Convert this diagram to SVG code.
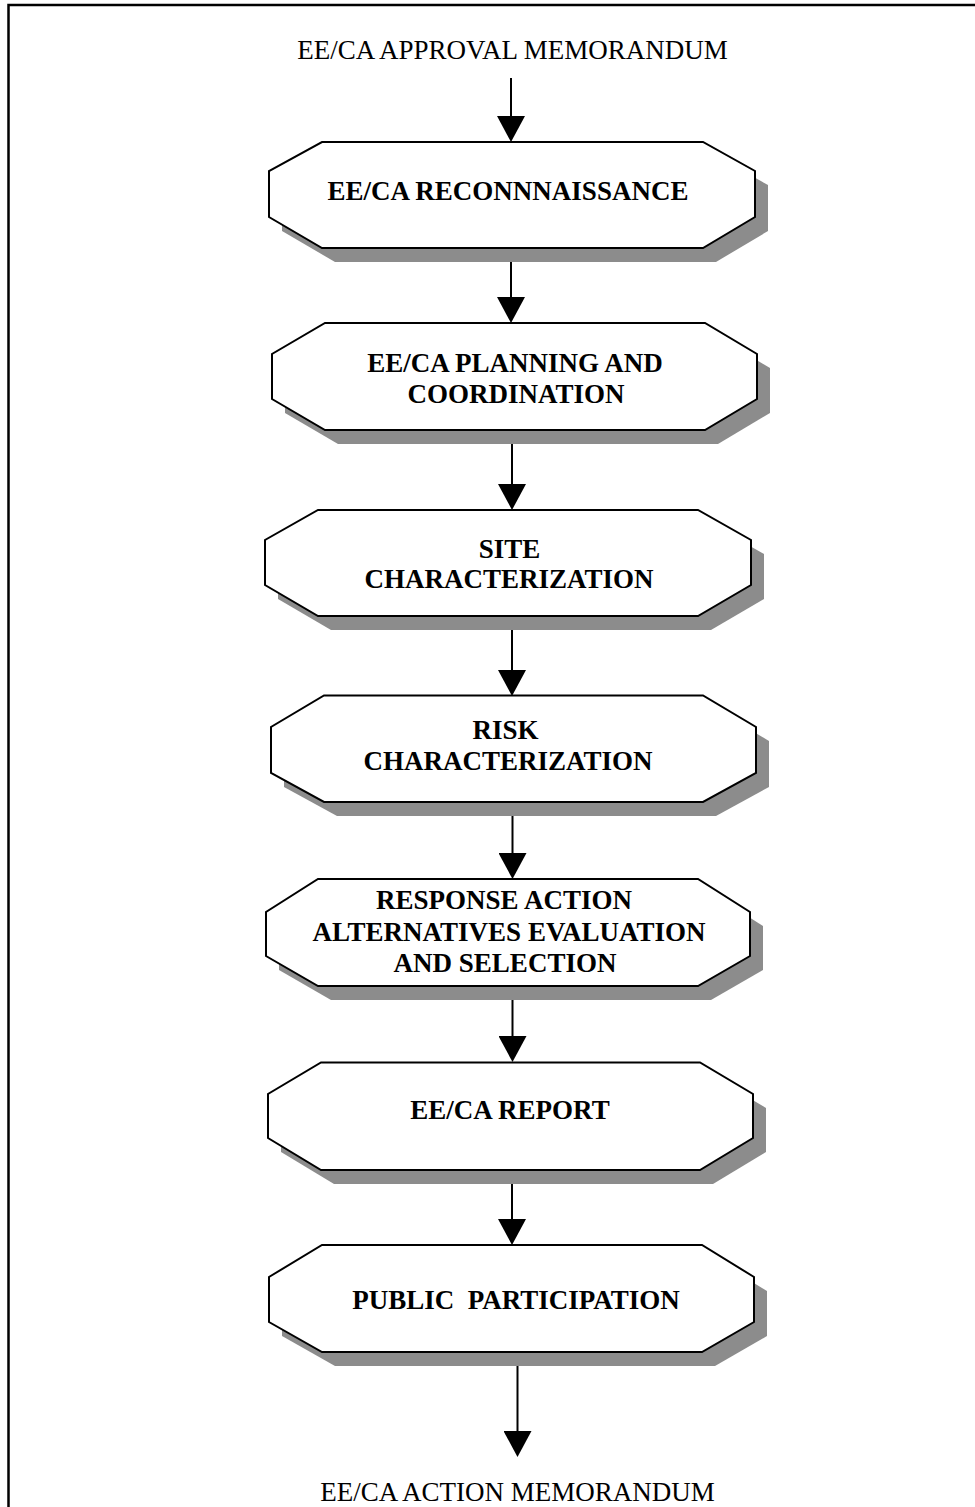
<svg xmlns="http://www.w3.org/2000/svg" width="975" height="1507" viewBox="0 0 975 1507">
<style>
.frame{fill:none;stroke:#000;stroke-width:2.5}
.shape{fill:#fff;stroke:#000;stroke-width:2;stroke-linejoin:miter}
.shadow{fill:#8c8c8c;stroke:none}
.lbl{font-family:"Liberation Serif","Times New Roman",serif;font-weight:bold;font-size:27px;fill:#000;text-anchor:middle}
.term{font-family:"Liberation Serif","Times New Roman",serif;font-size:27px;fill:#000;text-anchor:middle}
.conn{fill:none;stroke:#000;stroke-width:2}
</style>
<defs>
<marker id="ah" markerUnits="userSpaceOnUse" markerWidth="27" markerHeight="28" refX="10" refY="14" orient="auto" viewBox="0 0 27 28">
<path d="M0,0 L26,14 L0,28 Z" fill="#000"/>
</marker>
</defs>
<rect class="frame" x="8.5" y="5" width="1000" height="1600"/>
<g id="connectors">
<path class="conn" d="M511,78 V126" marker-end="url(#ah)"/>
<path class="conn" d="M511,248 V307" marker-end="url(#ah)"/>
<path class="conn" d="M512,430 V494" marker-end="url(#ah)"/>
<path class="conn" d="M512,616 V680" marker-end="url(#ah)"/>
<path class="conn" d="M512.5,802 V863" marker-end="url(#ah)"/>
<path class="conn" d="M512.5,986 V1046" marker-end="url(#ah)"/>
<path class="conn" d="M512,1170 V1229" marker-end="url(#ah)"/>
<path class="conn" d="M517.5,1352 V1441" marker-end="url(#ah)"/>
</g>
<g id="start">
<text class="term" x="512.5" y="59">EE/CA APPROVAL MEMORANDUM</text>
</g>
<g id="n1">
<polygon class="shadow" transform="translate(13,14)" points="322,142 703,142 755,171 755,217 703,248 322,248 269,217 269,171"/>
<polygon class="shape" points="322,142 703,142 755,171 755,217 703,248 322,248 269,217 269,171"/>
<text class="lbl" x="508" y="200">EE/CA RECONNNAISSANCE</text>
</g>
<g id="n2">
<polygon class="shadow" transform="translate(13,14)" points="325,323 705,323 757,354 757,399 705,430 325,430 272,399 272,354"/>
<polygon class="shape" points="325,323 705,323 757,354 757,399 705,430 325,430 272,399 272,354"/>
<text class="lbl" x="515" y="371.5">EE/CA PLANNING AND</text>
<text class="lbl" x="516" y="403">COORDINATION</text>
</g>
<g id="n3">
<polygon class="shadow" transform="translate(13,14)" points="318,510 698,510 751,540 751,585 698,616 318,616 265,585 265,540"/>
<polygon class="shape" points="318,510 698,510 751,540 751,585 698,616 318,616 265,585 265,540"/>
<text class="lbl" x="509.5" y="557.5">SITE</text>
<text class="lbl" x="509" y="588">CHARACTERIZATION</text>
</g>
<g id="n4">
<polygon class="shadow" transform="translate(13,14)" points="324,695.5 703,695.5 756,727 756,773 703,802 324,802 271,773 271,727"/>
<polygon class="shape" points="324,695.5 703,695.5 756,727 756,773 703,802 324,802 271,773 271,727"/>
<text class="lbl" x="505.5" y="738.5">RISK</text>
<text class="lbl" x="508" y="770">CHARACTERIZATION</text>
</g>
<g id="n5">
<polygon class="shadow" transform="translate(13,14)" points="318,879 698,879 750,912 750,956 698,986 318,986 266,956 266,912"/>
<polygon class="shape" points="318,879 698,879 750,912 750,956 698,986 318,986 266,956 266,912"/>
<text class="lbl" x="504" y="909">RESPONSE ACTION</text>
<text class="lbl" x="509" y="940.5">ALTERNATIVES EVALUATION</text>
<text class="lbl" x="505" y="972">AND SELECTION</text>
</g>
<g id="n6">
<polygon class="shadow" transform="translate(13,14)" points="321,1062.5 700,1062.5 753,1094 753,1138 700,1170 321,1170 268,1138 268,1094"/>
<polygon class="shape" points="321,1062.5 700,1062.5 753,1094 753,1138 700,1170 321,1170 268,1138 268,1094"/>
<text class="lbl" x="510" y="1118.5">EE/CA REPORT</text>
</g>
<g id="n7">
<polygon class="shadow" transform="translate(13,14)" points="322,1245 702,1245 754,1277 754,1322 702,1352 322,1352 269,1322 269,1277"/>
<polygon class="shape" points="322,1245 702,1245 754,1277 754,1322 702,1352 322,1352 269,1322 269,1277"/>
<text class="lbl" x="516" y="1308.5" xml:space="preserve">PUBLIC  PARTICIPATION</text>
</g>
<g id="end">
<text class="term" x="517.5" y="1501">EE/CA ACTION MEMORANDUM</text>
</g>
</svg>
